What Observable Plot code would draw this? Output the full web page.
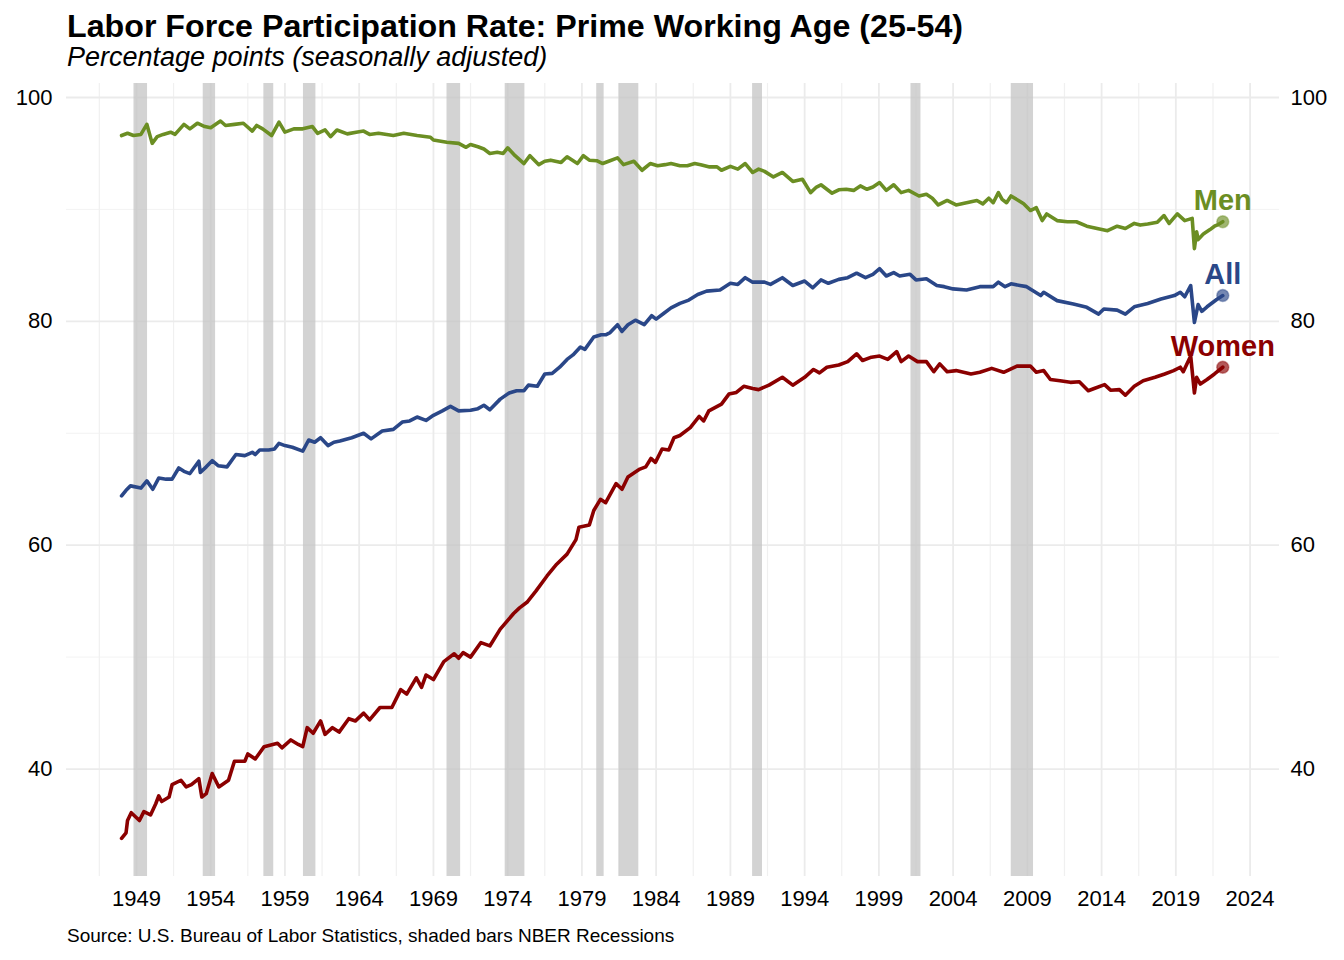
<!DOCTYPE html>
<html>
<head>
<meta charset="utf-8">
<script src="https://cdn.jsdelivr.net/npm/d3@7"></script>
<script src="https://cdn.jsdelivr.net/npm/@observablehq/plot@0.6"></script>
<style>
  body { margin: 0; background: #fff; font-family: "Liberation Sans", Arial, sans-serif; }
  #wrap { position: relative; width: 1344px; height: 960px; overflow: hidden; background: #fff; }
  .title { position: absolute; left: 67px; top: 10px; font-size: 32.2px; line-height: 32px; font-weight: bold; color: #000; white-space: nowrap; }
  .subtitle { position: absolute; left: 67px; top: 44px; font-size: 27px; line-height: 27px; font-style: italic; color: #000; white-space: nowrap; }
  .caption { position: absolute; left: 67px; top: 926px; font-size: 19px; line-height: 19px; color: #000; white-space: nowrap; }
  #chart { position: absolute; left: 0; top: 75px; }
</style>
</head>
<body>
<div id="wrap">
  <div class="title">Labor Force Participation Rate: Prime Working Age (25-54)</div>
  <div class="subtitle">Percentage points (seasonally adjusted)</div>
  <div id="chart"></div>
  <div class="caption">Source: U.S. Bureau of Labor Statistics, shaded bars NBER Recessions</div>
</div>
<script>
// ---- Data (decimal years) ----
const menYears = [1948.0,1948.4,1948.8,1949.3,1949.7,1950.06,1950.4,1950.8,1951.3,1951.6,1952.2,1952.6,1953.1,1953.6,1954.0,1954.66,1955.0,1955.6,1956.2,1956.8,1957.1,1957.5,1958.1,1958.6,1959.0,1959.6,1960.2,1960.85,1961.2,1961.7,1962.07,1962.5,1963.2,1963.8,1964.3,1964.7,1965.3,1966.3,1967.0,1967.9,1968.8,1969.0,1969.9,1970.7,1971.2,1971.5,1972.0,1972.4,1972.8,1973.3,1973.7,1974.0,1974.5,1975.1,1975.5,1976.1,1976.5,1976.9,1977.6,1978.0,1978.7,1979.1,1979.5,1980.0,1980.4,1980.8,1981.4,1981.8,1982.5,1983.05,1983.6,1984.1,1984.6,1985.0,1985.6,1986.1,1986.6,1987.0,1987.6,1988.1,1988.4,1989.0,1989.5,1990.0,1990.5,1990.9,1991.3,1991.9,1992.5,1993.2,1993.85,1994.4,1994.8,1995.1,1995.85,1996.3,1996.8,1997.3,1997.75,1998.2,1998.6,1999.05,1999.5,2000.0,2000.5,2001.0,2001.7,2002.2,2002.6,2003.0,2003.6,2004.2,2004.9,2005.6,2006.0,2006.4,2006.7,2007.05,2007.3,2007.6,2007.9,2008.4,2008.75,2009.2,2009.6,2010.0,2010.3,2011.0,2011.7,2012.3,2013.0,2013.7,2014.4,2015.05,2015.6,2016.2,2016.6,2017.1,2017.75,2018.2,2018.55,2019.1,2019.6,2020.1,2020.25,2020.4,2020.5,2020.85,2021.3,2021.6,2021.85,2022.16];
const menValues = [96.6,96.8,96.6,96.7,97.6,95.9,96.5,96.7,96.9,96.7,97.6,97.2,97.7,97.4,97.3,97.9,97.5,97.6,97.7,97.0,97.5,97.2,96.6,97.8,96.9,97.2,97.2,97.4,96.8,97.1,96.5,97.1,96.75,96.9,97.0,96.7,96.8,96.6,96.8,96.6,96.45,96.2,96.0,95.9,95.55,95.8,95.6,95.4,95.0,95.1,95.0,95.5,94.8,94.1,94.8,94.0,94.3,94.4,94.2,94.7,94.1,94.8,94.4,94.35,94.1,94.3,94.6,94.0,94.3,93.5,94.1,93.9,94.0,94.1,93.9,93.9,94.1,94.0,93.8,93.8,93.5,93.85,93.6,94.1,93.3,93.6,93.4,92.9,93.3,92.5,92.7,91.5,92.0,92.2,91.45,91.75,91.8,91.7,92.1,91.8,92.0,92.4,91.7,92.2,91.5,91.7,91.2,91.35,91.0,90.4,90.8,90.4,90.6,90.8,90.5,91.0,90.6,91.5,90.9,90.6,91.2,90.8,90.5,89.9,90.15,89.0,89.6,89.0,88.9,88.9,88.5,88.3,88.1,88.5,88.3,88.75,88.6,88.7,88.85,89.45,88.75,89.6,89.0,89.2,86.5,88.0,87.3,87.8,88.2,88.5,88.65,88.9];

const allYears = [1948.0,1948.3,1948.6,1949.3,1949.7,1950.1,1950.5,1951.0,1951.4,1951.85,1952.2,1952.6,1953.2,1953.3,1953.7,1954.1,1954.5,1955.1,1955.7,1956.3,1956.8,1957.0,1957.3,1957.9,1958.3,1958.6,1959.0,1959.5,1960.2,1960.6,1961.0,1961.4,1961.9,1962.3,1962.7,1963.5,1964.3,1964.8,1965.55,1966.3,1966.9,1967.4,1967.9,1968.5,1969.0,1969.6,1970.15,1970.7,1971.5,1972.0,1972.4,1972.8,1973.5,1974.1,1974.6,1975.1,1975.4,1976.0,1976.5,1977.0,1977.5,1978.0,1978.4,1978.9,1979.2,1979.8,1980.3,1980.6,1980.9,1981.4,1981.7,1982.1,1982.6,1983.2,1983.7,1984.0,1984.5,1985.0,1985.6,1986.2,1986.8,1987.4,1988.3,1989.0,1989.5,1990.0,1990.5,1991.3,1991.7,1992.5,1993.2,1994.0,1994.55,1995.1,1995.6,1996.3,1996.9,1997.5,1998.1,1998.6,1999.05,1999.5,2000.0,2000.4,2001.1,2001.5,2002.2,2002.9,2003.4,2004.0,2004.9,2005.8,2006.7,2007.05,2007.5,2007.9,2008.5,2008.95,2009.3,2009.9,2010.1,2011.0,2012.1,2013.0,2013.8,2014.15,2015.05,2015.6,2016.2,2017.1,2018.0,2018.9,2019.3,2019.6,2020.0,2020.25,2020.5,2020.75,2021.1,2021.75,2022.16];
const allValues = [64.4,64.9,65.3,65.1,65.75,65.0,66.0,65.9,65.9,66.9,66.6,66.4,67.5,66.5,67.0,67.55,67.1,67.0,68.1,68.0,68.3,68.1,68.5,68.5,68.6,69.1,68.9,68.75,68.4,69.4,69.2,69.6,68.9,69.2,69.3,69.6,70.0,69.5,70.2,70.35,71.0,71.1,71.45,71.15,71.6,72.0,72.4,72.0,72.05,72.2,72.5,72.1,73.05,73.6,73.8,73.8,74.3,74.2,75.3,75.35,75.9,76.6,77.0,77.7,77.5,78.6,78.8,78.8,79.0,79.7,79.1,79.7,80.1,79.7,80.5,80.2,80.7,81.2,81.6,81.9,82.4,82.7,82.8,83.4,83.3,83.9,83.5,83.5,83.3,83.9,83.2,83.6,83.0,83.7,83.4,83.75,83.9,84.3,83.9,84.2,84.7,84.05,84.35,84.05,84.2,83.7,83.8,83.2,83.1,82.9,82.8,83.1,83.1,83.5,83.1,83.35,83.2,83.1,82.8,82.3,82.6,81.85,81.55,81.25,80.65,81.1,81.0,80.65,81.3,81.6,82.0,82.3,82.6,82.2,83.2,79.9,81.5,80.9,81.3,81.95,82.3];

const womenYears = [1948.0,1948.3,1948.4,1948.65,1949.2,1949.5,1949.95,1950.3,1950.5,1950.7,1951.2,1951.4,1952.0,1952.35,1952.7,1953.2,1953.4,1953.7,1954.1,1954.55,1955.2,1955.6,1956.3,1956.5,1957.0,1957.6,1958.5,1958.8,1959.4,1959.9,1960.2,1960.5,1960.9,1961.4,1961.7,1962.2,1962.65,1963.3,1963.75,1964.3,1964.7,1965.4,1966.2,1966.8,1967.2,1967.85,1968.2,1968.5,1969.0,1969.7,1970.4,1970.7,1971.0,1971.5,1972.2,1972.8,1973.5,1974.4,1974.8,1975.3,1975.9,1976.65,1977.3,1978.0,1978.6,1978.8,1979.5,1979.8,1980.25,1980.6,1981.3,1981.7,1982.1,1982.9,1983.3,1983.65,1983.95,1984.4,1984.85,1985.2,1985.6,1986.3,1986.9,1987.2,1987.55,1988.4,1988.9,1989.4,1989.9,1990.5,1990.9,1991.6,1992.5,1993.2,1994.0,1994.6,1995.0,1995.5,1996.3,1996.9,1997.5,1997.9,1998.5,1999.05,1999.6,2000.2,2000.5,2001.0,2001.6,2002.2,2002.7,2003.1,2003.6,2004.2,2005.2,2005.8,2006.6,2007.4,2008.3,2009.2,2009.6,2010.1,2010.55,2011.2,2011.9,2012.5,2013.1,2013.5,2014.2,2014.6,2015.2,2015.6,2016.2,2016.8,2017.6,2018.25,2018.85,2019.3,2019.5,2020.0,2020.25,2020.4,2020.65,2021.1,2021.6,2022.16];
const womenValues = [33.8,34.3,35.4,36.1,35.4,36.2,35.9,36.9,37.6,37.1,37.5,38.6,39.0,38.4,38.6,39.15,37.5,37.8,39.6,38.4,39.0,40.7,40.7,41.35,40.9,42.0,42.3,41.9,42.6,42.2,42.0,43.7,43.2,44.3,43.1,43.7,43.3,44.5,44.3,45.0,44.4,45.5,45.5,47.1,46.7,48.15,47.3,48.4,48.0,49.6,50.3,49.9,50.4,50.0,51.3,51.0,52.5,53.9,54.4,54.9,55.9,57.25,58.3,59.2,60.5,61.6,61.8,63.1,64.1,63.8,65.5,65.0,66.1,66.8,67.0,67.75,67.4,68.6,68.5,69.6,69.8,70.5,71.5,71.1,72.0,72.6,73.5,73.65,74.2,74.0,73.9,74.3,75.0,74.3,75.0,75.7,75.4,75.9,76.1,76.4,77.1,76.5,76.8,76.9,76.6,77.3,76.4,76.9,76.4,76.4,75.5,76.2,75.5,75.6,75.3,75.45,75.8,75.45,76.0,76.0,75.45,75.6,74.8,74.7,74.55,74.6,73.8,74.0,74.35,73.85,73.9,73.4,74.2,74.7,75.0,75.3,75.6,75.9,75.5,76.9,73.6,75.0,74.4,74.8,75.3,75.9];

const recessionStart = ["1948-11","1953-07","1957-08","1960-04","1969-12","1973-11","1980-01","1981-07","1990-07","2001-03","2007-12"];
const recessionEnd   = ["1949-10","1954-05","1958-04","1961-02","1970-11","1975-03","1980-07","1982-11","1991-03","2001-11","2009-06"];

const tickYears = [1949,1954,1959,1964,1969,1974,1979,1984,1989,1994,1999,2004,2009,2014,2019,2024];
const yTicks = [40,60,80,100];
const yMinor = [50,70,90];

const seriesNames = ["Men","All","Women"];
const seriesColors = ["#6b8e23","#2a4788","#8b0000"];

// ---- helpers ----
function toDate(d) {
  const y = Math.floor(d);
  const s = Date.UTC(y, 0, 1), e = Date.UTC(y + 1, 0, 1);
  return new Date(s + (d - y) * (e - s));
}
const ym = s => { const [y, m] = s.split("-").map(Number); return new Date(Date.UTC(y, m - 1, 1)); };

const series = [
  {name: seriesNames[0], color: seriesColors[0], data: menYears.map((y, i) => ({date: toDate(y), value: menValues[i]}))},
  {name: seriesNames[1], color: seriesColors[1], data: allYears.map((y, i) => ({date: toDate(y), value: allValues[i]}))},
  {name: seriesNames[2], color: seriesColors[2], data: womenYears.map((y, i) => ({date: toDate(y), value: womenValues[i]}))}
];
const recessions = recessionStart.map((s, i) => ({start: ym(s), end: ym(recessionEnd[i])}));
const majorX = tickYears.map(y => new Date(Date.UTC(y, 0, 1)));
const minorX = tickYears.map(y => toDate(y - 2.5));

const marks = [
  Plot.ruleY(yMinor, {stroke: "#f3f3f3", strokeWidth: 1}),
  Plot.ruleX(minorX, {stroke: "#f0f0f0", strokeWidth: 1.2}),
  Plot.ruleY(yTicks, {stroke: "#ebebeb", strokeWidth: 1.8}),
  Plot.ruleX(majorX, {stroke: "#ebebeb", strokeWidth: 1.8}),
  Plot.rect(recessions, {x1: "start", x2: "end", fill: "#c4c4c4", fillOpacity: 0.75})
];
for (const s of series) {
  marks.push(Plot.line(s.data, {x: "date", y: "value", stroke: s.color, strokeWidth: 3.6, strokeLinejoin: "round"}));
}
for (const s of series) {
  const last = s.data[s.data.length - 1];
  marks.push(Plot.dot([last], {x: "date", y: "value", r: 6, fill: s.color, fillOpacity: 0.65, stroke: s.color, strokeOpacity: 0.4}));
  marks.push(Plot.text([last], {x: "date", y: "value", text: () => s.name, dy: -21, fill: s.color, fontSize: 29, fontWeight: "bold", textAnchor: "middle"}));
}
marks.push(
  Plot.axisX({ticks: majorX, tickFormat: d => String(d.getUTCFullYear()), tickSize: 0, tickPadding: 14, label: null}),
  Plot.axisY({anchor: "left", ticks: yTicks, tickSize: 0, tickPadding: 14, label: null}),
  Plot.axisY({anchor: "right", ticks: yTicks, tickSize: 0, tickPadding: 11, label: null})
);

const chart = Plot.plot({
  width: 1344,
  height: 845,
  marginTop: 8,
  marginBottom: 44,
  marginLeft: 66,
  marginRight: 65,
  style: {fontFamily: '"Liberation Sans", Arial, sans-serif', fontSize: "22px", color: "#000", background: "transparent", overflow: "visible"},
  x: {type: "utc", domain: [toDate(1944.29), toDate(2025.98)]},
  y: {domain: [30.4, 101.25]},
  marks
});
document.getElementById("chart").appendChild(chart);
</script>
</body>
</html>
